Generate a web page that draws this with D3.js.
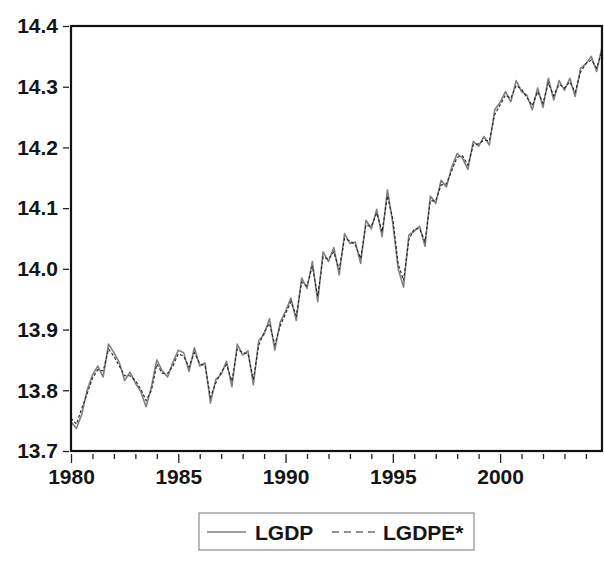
<!DOCTYPE html>
<html>
<head>
<meta charset="utf-8">
<script src="https://cdn.jsdelivr.net/npm/d3@7"></script>
<style>
  body { margin: 0; background: #fff; }
  text { font-family: "Liberation Sans", Arial, sans-serif; }
</style>
</head>
<body>
<div id="chart-area"></div>
<script>
// Quarterly data, 1980Q1 - 2004Q4
var startYear = 1980;
var seriesNames = ["LGDP", "LGDPE*"];

var lgdp = [
    13.748, 13.737, 13.760, 13.800, 13.825, 13.840, 13.822, 13.876,
    13.862, 13.846, 13.816, 13.830, 13.812, 13.798, 13.773, 13.806,
    13.850, 13.832, 13.822, 13.846, 13.866, 13.862, 13.831, 13.870,
    13.840, 13.845, 13.779, 13.818, 13.826, 13.848, 13.806, 13.876,
    13.858, 13.865, 13.809, 13.882, 13.892, 13.918, 13.866, 13.912,
    13.930, 13.952, 13.915, 13.985, 13.968, 14.012, 13.946, 14.028,
    14.012, 14.035, 13.990, 14.058, 14.042, 14.044, 14.009, 14.080,
    14.066, 14.098, 14.053, 14.130, 14.075, 14.000, 13.970, 14.056,
    14.062, 14.070, 14.037, 14.120, 14.108, 14.146, 14.135, 14.168,
    14.190, 14.182, 14.164, 14.210, 14.202, 14.218, 14.204, 14.262,
    14.274, 14.292, 14.275, 14.310, 14.292, 14.286, 14.262, 14.298,
    14.266, 14.314, 14.278, 14.310, 14.294, 14.314, 14.284, 14.330,
    14.338, 14.350, 14.325, 14.365
];

var lgdpe = [
    13.754, 13.744, 13.770, 13.794, 13.820, 13.834, 13.832, 13.868,
    13.856, 13.840, 13.824, 13.824, 13.816, 13.802, 13.783, 13.800,
    13.843, 13.828, 13.828, 13.840, 13.860, 13.856, 13.838, 13.862,
    13.844, 13.840, 13.789, 13.812, 13.830, 13.842, 13.815, 13.868,
    13.862, 13.860, 13.818, 13.874, 13.896, 13.910, 13.875, 13.906,
    13.926, 13.946, 13.923, 13.978, 13.972, 14.004, 13.955, 14.020,
    14.016, 14.028, 13.999, 14.050, 14.046, 14.040, 14.017, 14.072,
    14.070, 14.092, 14.061, 14.120, 14.082, 14.008, 13.981, 14.048,
    14.066, 14.066, 14.045, 14.112, 14.112, 14.138, 14.140, 14.162,
    14.184, 14.186, 14.171, 14.204, 14.206, 14.212, 14.211, 14.254,
    14.270, 14.286, 14.281, 14.302, 14.296, 14.282, 14.269, 14.292,
    14.273, 14.306, 14.285, 14.304, 14.298, 14.308, 14.291, 14.324,
    14.338, 14.344, 14.331, 14.358
];

var yTicks = [13.7, 13.8, 13.9, 14.0, 14.1, 14.2, 14.3, 14.4];
var xMajorTicks = [1980, 1985, 1990, 1995, 2000];
var xMinorTicks = d3.range(1981, 2005);

var svgWidth = 604, svgHeight = 561;
var margin = { left:71, right:2, top:26, bottom:110 };
var width = svgWidth - margin.left - margin.right,
    height = svgHeight - margin.top - margin.bottom;

var svg = d3.select("#chart-area")
    .append("svg")
    .attr("width", svgWidth)
    .attr("height", svgHeight);

var g = svg.append("g")
    .attr("transform", "translate(" + margin.left + ", " + margin.top + ")");

// X Scale (observation time in years)
var x = d3.scaleLinear()
    .domain([startYear, startYear + (lgdp.length - 1) / 4])
    .range([0, width]);

// Y Scale
var y = d3.scaleLinear()
    .domain([13.7, 14.4])
    .range([height, 0]);

function toPoints(values) {
    return values.map(function(v, i) {
        return { t: startYear + i / 4, v: v };
    });
}

var line = d3.line()
    .x(function(d){ return x(d.t); })
    .y(function(d){ return y(d.v); });

g.append("clipPath")
    .attr("id", "plot-clip")
    .append("rect")
    .attr("width", width)
    .attr("height", height);

// LGDP - solid gray
g.append("path")
    .datum(toPoints(lgdp))
    .attr("clip-path", "url(#plot-clip)")
    .attr("fill", "none")
    .attr("stroke", "#808080")
    .attr("stroke-width", 1.6)
    .attr("stroke-linejoin", "round")
    .attr("d", line);

// LGDPE* - dashed dark
g.append("path")
    .datum(toPoints(lgdpe))
    .attr("clip-path", "url(#plot-clip)")
    .attr("fill", "none")
    .attr("stroke", "#222")
    .attr("stroke-width", 1.1)
    .attr("stroke-dasharray", "3,2")
    .attr("d", line);

// Frame
g.append("rect")
    .attr("width", width)
    .attr("height", height)
    .attr("fill", "none")
    .attr("stroke", "#111")
    .attr("stroke-width", 2.2);

// Y Axis
var yAxisCall = d3.axisLeft(y)
    .tickValues(yTicks)
    .tickSize(6)
    .tickPadding(5)
    .tickFormat(d3.format(".1f"));

var yAxis = g.append("g")
    .attr("class", "y axis")
    .attr("transform", "translate(-2,0)")
    .call(yAxisCall);

// X Axis: yearly minor ticks, labelled majors
var xMinorCall = d3.axisBottom(x)
    .tickValues(xMinorTicks.filter(function(d){ return d % 5 !== 0; }))
    .tickSize(5)
    .tickFormat("");

g.append("g")
    .attr("class", "x axis minor")
    .attr("transform", "translate(0," + (height + 3) + ")")
    .call(xMinorCall);

var xAxisCall = d3.axisBottom(x)
    .tickValues(xMajorTicks)
    .tickSize(9)
    .tickPadding(6)
    .tickFormat(d3.format("d"));

var xAxis = g.append("g")
    .attr("class", "x axis")
    .attr("transform", "translate(0," + (height + 3) + ")")
    .call(xAxisCall);

svg.selectAll(".axis .domain").remove();
svg.selectAll(".axis line")
    .attr("stroke", "#222")
    .attr("stroke-width", 1.3);
svg.selectAll(".axis text")
    .attr("font-size", "21px")
    .attr("font-weight", "bold")
    .attr("fill", "#151515");
xAxis.selectAll("text").attr("dy", "0.71em");

// Legend
var legend = svg.append("g")
    .attr("transform", "translate(199,513)");

legend.append("rect")
    .attr("width", 275)
    .attr("height", 37)
    .attr("fill", "#fff")
    .attr("stroke", "#8c8c8c")
    .attr("stroke-width", 1.2);

legend.append("line")
    .attr("x1", 8).attr("x2", 47)
    .attr("y1", 19).attr("y2", 19)
    .attr("stroke", "#808080")
    .attr("stroke-width", 1.6);

legend.append("text")
    .attr("x", 56)
    .attr("y", 27)
    .attr("font-size", "21px")
    .attr("font-weight", "bold")
    .attr("fill", "#151515")
    .text(seriesNames[0]);

legend.append("line")
    .attr("x1", 133).attr("x2", 178)
    .attr("y1", 19).attr("y2", 19)
    .attr("stroke", "#222")
    .attr("stroke-width", 1.1)
    .attr("stroke-dasharray", "7,5");

legend.append("text")
    .attr("x", 184)
    .attr("y", 27)
    .attr("font-size", "21px")
    .attr("font-weight", "bold")
    .attr("fill", "#151515")
    .text(seriesNames[1]);
</script>
</body>
</html>
